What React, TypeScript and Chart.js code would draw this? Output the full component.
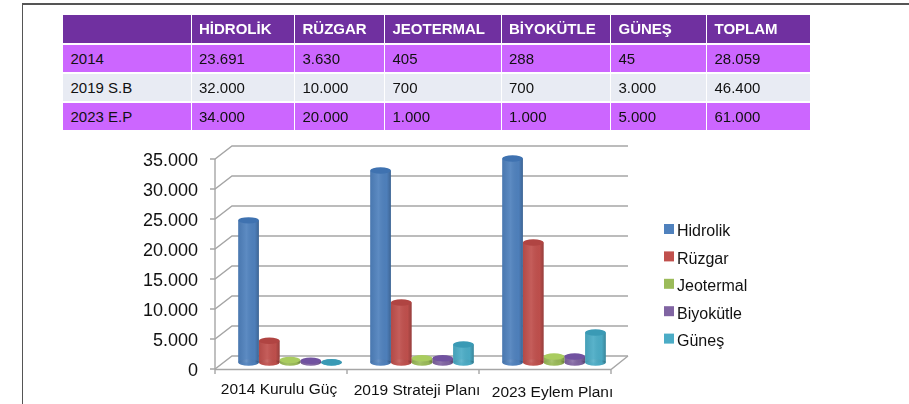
import React, { useEffect, useRef } from "react";
import { Chart, registerables } from "chart.js";

Chart.register(...registerables);

const tableHead = ["", "HİDROLİK", "RÜZGAR", "JEOTERMAL", "BİYOKÜTLE", "GÜNEŞ", "TOPLAM"];
const tableRow2014 = ["2014", "23.691", "3.630", "405", "288", "45", "28.059"];
const tableRow2019 = ["2019 S.B", "32.000", "10.000", "700", "700", "3.000", "46.400"];
const tableRow2023 = ["2023 E.P", "34.000", "20.000", "1.000", "1.000", "5.000", "61.000"];

const categories = ["2014 Kurulu Güç", "2019 Strateji Planı", "2023 Eylem Planı"];
const hidrolik = [23691, 32000, 34000];
const ruzgar = [3630, 10000, 20000];
const jeotermal = [405, 700, 1000];
const biyokutle = [288, 700, 1000];
const gunes = [45, 3000, 5000];

const seriesNames = ["Hidrolik", "Rüzgar", "Jeotermal", "Biyokütle", "Güneş"];
const seriesColors = ["#4F81BD", "#C0504D", "#9BBB59", "#8064A2", "#4BACC6"];
const seriesTops = ["#3F72B0", "#B04442", "#A9CC5F", "#7152A0", "#3A9AB5"];

const DEPTH_X = 17;
const DEPTH_Y = -13;
const labelNudgeX = [-2, 4, 7.5];
const labelNudgeY = [1, 2, 4];
const yLabelNudge = 2;

const threeD = {
  id: "threeD",
  afterLayout(chart: any) {
    chart.scales.x.getLabelItems(chart.chartArea).forEach((it: any, i: number) => {
      it.options.translation = [it.options.translation[0] + labelNudgeX[i], it.options.translation[1] + labelNudgeY[i]];
    });
    chart.scales.y.getLabelItems(chart.chartArea).forEach((it: any) => {
      it.options.translation = [it.options.translation[0], it.options.translation[1] + yLabelNudge];
    });
  },
  beforeDatasetsDraw(chart: any) {
    const { ctx, chartArea: a, scales } = chart;
    const y = scales.y;
    const x = scales.x;
    ctx.save();
    ctx.strokeStyle = "#A6A6A6";
    ctx.lineWidth = 1.4;
    y.ticks.forEach((t: any) => {
      const py = y.getPixelForValue(t.value);
      ctx.beginPath();
      ctx.moveTo(a.left - 5, py);
      ctx.lineTo(a.left, py);
      ctx.lineTo(a.left + DEPTH_X, py + DEPTH_Y);
      ctx.lineTo(a.right + DEPTH_X, py + DEPTH_Y);
      ctx.stroke();
    });
    ctx.beginPath();
    ctx.moveTo(a.left, a.top);
    ctx.lineTo(a.left, a.bottom + 5);
    ctx.moveTo(a.left, a.bottom + 0.5);
    ctx.lineTo(a.right, a.bottom + 0.5);
    ctx.lineTo(a.right + DEPTH_X, a.bottom + DEPTH_Y);
    const edges = [0, 1, 2].map((i) => (x.getPixelForValue(i) + x.getPixelForValue(i + 1)) / 2);
    edges[2] = a.right;
    edges.forEach((ex: number) => {
      ctx.moveTo(ex, a.bottom);
      ctx.lineTo(ex, a.bottom + 5);
    });
    ctx.stroke();
    ctx.restore();
    ctx.save();
    ctx.translate(DEPTH_X / 2 + 0.5, DEPTH_Y / 2);
  },
  afterDatasetsDraw(chart: any) {
    const { ctx } = chart;
    chart.data.datasets.forEach((ds: any, di: number) => {
      chart.getDatasetMeta(di).data.forEach((el: any) => {
        const left = el.x - el.width / 2;
        const w = el.width;
        const ry = 3.2;
        const g = ctx.createLinearGradient(left, 0, left + w, 0);
        g.addColorStop(0, "rgba(0,0,0,0.07)");
        g.addColorStop(0.4, "rgba(255,255,255,0.08)");
        g.addColorStop(0.8, "rgba(0,0,0,0.02)");
        g.addColorStop(1, "rgba(0,0,0,0.22)");
        ctx.beginPath();
        ctx.ellipse(el.x, el.base, w / 2, ry, 0, 0, Math.PI * 2);
        ctx.fillStyle = ds.backgroundColor;
        ctx.fill();
        ctx.fillStyle = g;
        ctx.fill();
        ctx.fillStyle = g;
        ctx.fillRect(left, el.y, w, el.base - el.y);
        ctx.beginPath();
        ctx.ellipse(el.x, el.y, w / 2, ry, 0, 0, Math.PI * 2);
        ctx.fillStyle = seriesTops[di];
        ctx.fill();
      });
    });
    ctx.restore();
  },
  afterDraw(chart: any) {
    const { ctx } = chart;
    ctx.save();
    ctx.font = '16px "Liberation Sans"';
    ctx.textBaseline = "middle";
    ctx.textAlign = "left";
    chart.data.datasets.forEach((ds: any, i: number) => {
      const top = 224 + i * 27.4;
      ctx.fillStyle = ds.backgroundColor;
      ctx.fillRect(664, top, 10, 10);
      ctx.fillStyle = "#111";
      ctx.fillText(ds.label, 677, top + 8);
    });
    ctx.restore();
  },
};

const cellBase: React.CSSProperties = {
  position: "absolute",
  boxSizing: "border-box",
  font: '15px "Liberation Sans"',
  color: "#111",
  paddingLeft: 7.5,
  display: "flex",
  alignItems: "center",
  whiteSpace: "nowrap",
};

const colEdges = [63, 191.5, 295, 385, 501.5, 611, 707, 811];
const rowBands = [
  { top: 15, height: 27.5, bg: "#7030A0", pad: 0 },
  { top: 45, height: 27, bg: "#CC66FF", pad: 1 },
  { top: 73.5, height: 27.5, bg: "#E8EBF3", pad: 0 },
  { top: 102.5, height: 27.5, bg: "#CC66FF", pad: 0 },
];

export default function App() {
  const ref = useRef<HTMLCanvasElement | null>(null);
  useEffect(() => {
    document.body.style.margin = "0";
    const values = [hidrolik, ruzgar, jeotermal, biyokutle, gunes];
    const chart = new Chart(ref.current as HTMLCanvasElement, {
      type: "bar",
      data: {
        labels: categories,
        datasets: seriesNames.map((name, i) => ({
          label: name,
          data: values[i],
          backgroundColor: seriesColors[i],
          borderWidth: 0,
          clip: false,
          categoryPercentage: 0.785,
          barPercentage: 1,
        })),
      },
      options: {
        responsive: false,
        animation: false,
        layout: { padding: { top: 159, left: 0, right: 298, bottom: 0 } },
        plugins: { legend: { display: false }, tooltip: { enabled: false } },
        scales: {
          x: {
            grid: { display: false, drawTicks: false },
            border: { display: false },
            ticks: {
              color: "#111",
              padding: 10,
              maxRotation: 0,
              autoSkip: false,
              font: { family: '"Liberation Sans"', size: 15.5 },
            },
            afterFit(s: any) {
              s.height = 35;
            },
          },
          y: {
            min: 0,
            max: 35000,
            grid: { display: false, drawTicks: false },
            border: { display: false },
            ticks: {
              stepSize: 5000,
              color: "#111",
              padding: 17,
              font: { family: '"Liberation Sans"', size: 18 },
              callback: (v: any) => (v === 0 ? "0" : Number(v).toLocaleString("de-DE")),
            },
            afterFit(s: any) {
              s.width = 215;
            },
          },
        },
      },
      plugins: [threeD],
    } as any);
    return () => chart.destroy();
  }, []);

  const rows = [tableHead, tableRow2014, tableRow2019, tableRow2023];
  return (
    <div style={{ position: "fixed", left: 0, top: 0, width: 909, height: 404, overflow: "hidden", background: "#fff" }}>
      <canvas ref={ref} width={909} height={404} style={{ position: "absolute", left: 0, top: 0, display: "block" }} />
      <div style={{ position: "absolute", left: 22, top: 3, right: 0, height: 2, background: "#555" }} />
      <div style={{ position: "absolute", left: 22, top: 3, bottom: 0, width: 1, background: "#555" }} />
      {rows.map((row, r) =>
        row.map((text, c) => (
          <div
            key={r + "-" + c}
            style={{
              ...cellBase,
              left: colEdges[c],
              width: colEdges[c + 1] - colEdges[c] - 1,
              top: rowBands[r].top,
              height: rowBands[r].height,
              paddingBottom: rowBands[r].pad,
              background: rowBands[r].bg,
              ...(r === 0 ? { color: "#fff", fontWeight: 700 } : {}),
            }}
          >
            {text}
          </div>
        ))
      )}
    </div>
  );
}
